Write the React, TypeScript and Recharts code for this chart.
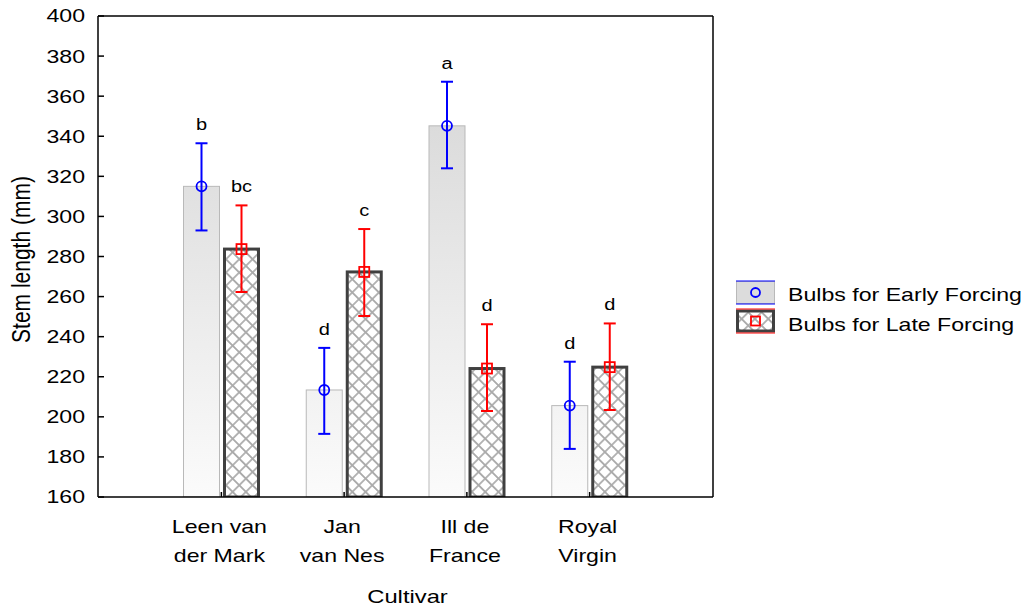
import React from "react";
import {
  Bar,
  ComposedChart,
  ErrorBar,
  Legend,
  ReferenceLine,
  XAxis,
  YAxis,
} from "recharts";

const FONT = '"Liberation Sans", Arial, sans-serif';
// the original export draws every text a bit wider than the font itself
const STRETCH = 1.25;

const cultivars = ["Leen van der Mark", "Jan van Nes", "Ill de France", "Royal Virgin"];
const cultivarLines = [
  ["Leen van", "der Mark"],
  ["Jan", "van Nes"],
  ["Ill de", "France"],
  ["Royal", "Virgin"],
];

const early = [315, 213.4, 345.2, 205.6];
const earlyLow = [293, 191.5, 324, 184];
const earlyHigh = [336.5, 234.4, 367.2, 227.5];
const earlyLetters = ["b", "d", "a", "d"];

const late = [283.7, 272.3, 224.1, 224.8];
const lateLow = [262.3, 250.3, 202.9, 203.4];
const lateHigh = [305.5, 293.7, 246.2, 246.6];
const lateLetters = ["bc", "c", "d", "d"];

const yTicks = [160, 180, 200, 220, 240, 260, 280, 300, 320, 340, 360, 380, 400];

const data = cultivars.map((name, i) => ({
  name,
  early: early[i],
  earlyErr: [early[i] - earlyLow[i], earlyHigh[i] - early[i]],
  earlyLetter: earlyLetters[i],
  late: late[i],
  lateErr: [late[i] - lateLow[i], lateHigh[i] - late[i]],
  lateLetter: lateLetters[i],
}));

const BLUE = "#0000ff";
const RED = "#ff0000";

function WideText({
  x,
  y,
  size,
  anchor = "middle",
  rotate,
  dy,
  children,
}: {
  x: number;
  y: number;
  size: number;
  anchor?: "start" | "middle" | "end";
  rotate?: number;
  dy?: string;
  children: React.ReactNode;
}) {
  return (
    <text
      transform={`translate(${x},${y}) scale(${STRETCH},1)${rotate ? ` rotate(${rotate})` : ""}`}
      fontFamily={FONT}
      fontSize={size}
      textAnchor={anchor}
      dy={dy}
      fill="#000"
    >
      {children}
    </text>
  );
}

function EarlyShape(props: any) {
  const { x, y, width, height, payload } = props;
  const perUnit = height / (payload.early - 160);
  const top = y - payload.earlyErr[1] * perUnit;
  const cx = x + width / 2;
  return (
    <g>
      <rect
        x={x + 0.5}
        y={y}
        width={width - 1}
        height={height}
        fill="url(#earlyFill)"
        stroke="#b9b9b9"
        strokeWidth={1}
      />
      <circle cx={cx} cy={y} r={5} fill="none" stroke={BLUE} strokeWidth={1.8} />
      <WideText x={cx} y={top - 13} size={16}>
        {payload.earlyLetter}
      </WideText>
    </g>
  );
}

function LateShape(props: any) {
  const { x, y, width, height, payload } = props;
  const perUnit = height / (payload.late - 160);
  const top = y - payload.lateErr[1] * perUnit;
  const cx = x + width / 2;
  return (
    <g>
      <rect
        x={x + 1.5}
        y={y}
        width={width - 3}
        height={height}
        fill="url(#xhatch)"
        stroke="#404040"
        strokeWidth={3}
      />
      <rect x={cx - 5} y={y - 5} width={10} height={10} fill="none" stroke={RED} strokeWidth={1.8} />
      <WideText x={cx} y={top - 13} size={16}>
        {payload.lateLetter}
      </WideText>
    </g>
  );
}

function YTick(props: any) {
  const { x, y, payload } = props;
  return (
    <WideText x={x} y={y} size={18.5} anchor="end" dy="0.35em">
      {payload.value}
    </WideText>
  );
}

function XTick(props: any) {
  const { x, y, payload } = props;
  const lines = cultivarLines[cultivars.indexOf(payload.value)] || [payload.value];
  return (
    <g>
      {lines.map((line, i) => (
        <WideText key={i} x={x - 2} y={y + 36 + i * 29} size={18.5}>
          {line}
        </WideText>
      ))}
    </g>
  );
}

function renderLegend() {
  return (
    <svg width={292} height={60} style={{ display: "block" }}>
      <rect x={1.5} y={2.5} width={38} height={22} fill="#dcdcdc" stroke="#b9b9b9" />
      <line x1={1} x2={40} y1={2} y2={2} stroke={BLUE} strokeWidth={1.2} />
      <line x1={1} x2={40} y1={25} y2={25} stroke={BLUE} strokeWidth={1.2} />
      <circle cx={20.5} cy={13.5} r={4.5} fill="none" stroke={BLUE} strokeWidth={1.8} />
      <rect x={2.5} y={32} width={36} height={20} fill="url(#xhatch)" stroke="#404040" strokeWidth={3} />
      <line x1={1} x2={40} y1={30} y2={30} stroke={RED} strokeWidth={1.2} />
      <line x1={1} x2={40} y1={54} y2={54} stroke={RED} strokeWidth={1.2} />
      <rect x={16} y={37.5} width={9} height={9} fill="none" stroke={RED} strokeWidth={1.8} />
      <WideText x={53} y={21.7} size={18.5} anchor="start">
        Bulbs for Early Forcing
      </WideText>
      <WideText x={53} y={51.7} size={18.5} anchor="start">
        Bulbs for Late Forcing
      </WideText>
    </svg>
  );
}

export default function App() {
  return (
    <div style={{ position: "absolute", left: 0, top: 0, background: "#fff" }}>
      <ComposedChart
        width={1027}
        height={609}
        data={data}
        margin={{ top: 16, right: 313, bottom: 0, left: 0 }}
        barSize={37}
        barGap={3}
      >
        <defs>
          <linearGradient id="earlyFill" gradientUnits="userSpaceOnUse" x1="0" y1="16" x2="0" y2="497">
            <stop offset="0%" stopColor="#d2d2d2" />
            <stop offset="100%" stopColor="#fbfbfb" />
          </linearGradient>
          <pattern
            id="xhatch"
            patternUnits="userSpaceOnUse"
            width="9.4"
            height="9.4"
            patternTransform="rotate(45)"
          >
            <rect width="9.4" height="9.4" fill="#fff" />
            <path d="M0,4.7H9.4M4.7,0V9.4" stroke="rgba(0,0,0,0.33)" strokeWidth="1.7" />
          </pattern>
        </defs>
        <XAxis
          dataKey="name"
          height={112}
          interval={0}
          padding={{ left: 62, right: 62 }}
          tickSize={-5}
          tickMargin={5}
          axisLine={{ stroke: "#000", strokeWidth: 1.5 }}
          tickLine={{ stroke: "#000", strokeWidth: 1.5 }}
          tick={<XTick />}
          label={{
            value: "Cultivar",
            content: (p: any) => {
              const vb = p.viewBox;
              return (
                <WideText x={vb.x + vb.width / 2 + 2} y={vb.y + 106} size={19}>
                  Cultivar
                </WideText>
              );
            },
          }}
        />
        <YAxis
          domain={[160, 400]}
          ticks={yTicks}
          width={98}
          interval={0}
          tickSize={-6}
          tickMargin={19}
          allowDataOverflow
          axisLine={{ stroke: "#000", strokeWidth: 1.5 }}
          tickLine={{ stroke: "#000", strokeWidth: 1.5 }}
          tick={<YTick />}
          label={{
            value: "Stem length (mm)",
            content: (p: any) => {
              const vb = p.viewBox;
              return (
                <WideText x={30} y={vb.y + vb.height / 2 + 3} size={21} rotate={-90}>
                  Stem length (mm)
                </WideText>
              );
            },
          }}
        />
        <YAxis
          yAxisId="right"
          orientation="right"
          domain={[160, 400]}
          ticks={yTicks}
          width={1}
          interval={0}
          tickSize={-6}
          axisLine={{ stroke: "#000", strokeWidth: 1.5 }}
          tickLine={{ stroke: "#000", strokeWidth: 1.5 }}
          tick={() => <g />}
        />
        <ReferenceLine y={400} stroke="#000" strokeWidth={1.5} />
        <Legend
          content={renderLegend}
          layout="horizontal"
          align="center"
          verticalAlign="middle"
          wrapperStyle={{ position: "absolute", left: 735, top: 279, width: 292 }}
        />
        <Bar dataKey="early" name="Bulbs for Early Forcing" shape={<EarlyShape />} isAnimationActive={false}>
          <ErrorBar dataKey="earlyErr" direction="y" width={6} stroke={BLUE} strokeWidth={2} isAnimationActive={false} />
        </Bar>
        <Bar dataKey="late" name="Bulbs for Late Forcing" shape={<LateShape />} isAnimationActive={false}>
          <ErrorBar dataKey="lateErr" direction="y" width={6} stroke={RED} strokeWidth={2} isAnimationActive={false} />
        </Bar>
      </ComposedChart>
    </div>
  );
}
